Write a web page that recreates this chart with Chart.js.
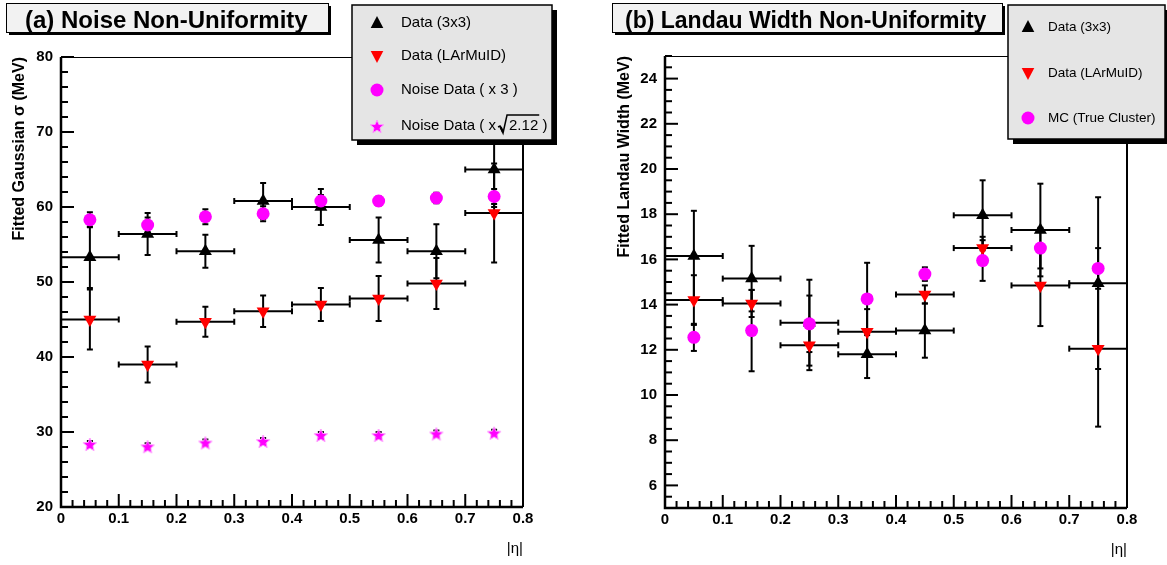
<!DOCTYPE html>
<html lang="en">
<head>
<meta charset="utf-8">
<title>Noise and Landau Width Non-Uniformity</title>
<script src="https://cdn.jsdelivr.net/npm/chart.js@4.4.1/dist/chart.umd.min.js"></script>
<style>
  body { margin: 0; background: #fff; }
  #wrap { position: relative; width: 1167px; height: 565px; overflow: hidden; }
  canvas { position: absolute; top: 0; }
  #left { left: 0; }
  #right { left: 600px; }
</style>
</head>
<body>
<div id="wrap">
  <canvas id="left" width="600" height="565"></canvas>
  <canvas id="right" width="567" height="565"></canvas>
</div>
<script>
// eta bins (bin centres, half width used as x error)
const etaCenters = [0.05, 0.15, 0.25, 0.35, 0.45, 0.55, 0.65, 0.75];
const etaHalfBin = 0.05;
const xTickValues = [0, 0.1, 0.2, 0.3, 0.4, 0.5, 0.6, 0.7, 0.8];
const xTickLabels = ['0', '0.1', '0.2', '0.3', '0.4', '0.5', '0.6', '0.7', '0.8'];

// (a) noise, fitted gaussian sigma in MeV
const noiseYTicks = [20, 30, 40, 50, 60, 70, 80];
const noise3x3 = [53.3, 56.4, 54.1, 60.8, 60.0, 55.6, 54.1, 65.0];
const noise3x3Err = [4.1, 2.8, 2.2, 2.4, 2.4, 3.0, 3.6, 5.0];
const noiseLAr = [45.0, 39.0, 44.7, 46.1, 47.0, 47.8, 49.8, 59.2];
const noiseLArErr = [4.0, 2.4, 2.0, 2.1, 2.2, 3.0, 3.4, 6.6];
const noiseTimes3 = [58.3, 57.6, 58.7, 59.1, 60.8, 60.8, 61.2, 61.4];
const noiseTimes3Err = [1.0, 1.0, 1.0, 1.0, 0.8, 0.6, 0.7, 1.0];
const noiseTimesSqrt = [28.4, 28.1, 28.6, 28.8, 29.6, 29.6, 29.8, 29.9];
const noiseTimesSqrtErr = [0.4, 0.4, 0.4, 0.4, 0.4, 0.4, 0.4, 0.4];

// (b) fitted landau width in MeV
const widthYTicks = [6, 8, 10, 12, 14, 16, 18, 20, 22, 24];
const width3x3 = [16.15, 15.15, 13.2, 11.8, 12.85, 17.95, 17.3, 14.95];
const width3x3Err = [2.0, 1.45, 1.9, 1.05, 1.2, 1.55, 2.05, 3.8];
const widthLAr = [14.2, 14.05, 12.2, 12.8, 14.45, 16.5, 14.85, 12.05];
const widthLArErr = [1.1, 0.6, 1.1, 1.0, 0.4, 0.5, 1.8, 3.45];
const widthMC = [12.55, 12.85, 13.15, 14.25, 15.35, 15.95, 16.5, 15.6];
const widthMCErr = [0.6, 1.8, 1.25, 1.6, 0.3, 0.9, 0.9, 0.9];

const FONT = '"Liberation Sans", Arial, Helvetica, sans-serif';
const MAGENTA = '#ff00ff';

function pts(values) {
    return etaCenters.map((x, i) => ({ x: x, y: values[i] }));
}

// filled star marker (chart.js 'star' is stroke only)
function starImage(size, color) {
    const c = document.createElement('canvas');
    c.width = c.height = size;
    const g = c.getContext('2d');
    const R = size / 2 - 1, r = R * 0.45;
    g.beginPath();
    for (let k = 0; k < 10; k++) {
        const rad = k % 2 ? r : R;
        const ang = -Math.PI / 2 + k * Math.PI / 5;
        g.lineTo(size / 2 + rad * Math.cos(ang), size / 2 + 1 + rad * Math.sin(ang));
    }
    g.closePath();
    g.fillStyle = color;
    g.fill();
    g.strokeStyle = '#ff99ff';
    g.lineWidth = 1;
    g.stroke();
    return c;
}
const starMarker = starImage(16, MAGENTA);

function drawMarker(ctx, kind, color, x, y) {
    ctx.save();
    ctx.fillStyle = color;
    ctx.beginPath();
    if (kind === 'up') {
        ctx.moveTo(x, y - 7); ctx.lineTo(x + 6.3, y + 5); ctx.lineTo(x - 6.3, y + 5);
    } else if (kind === 'down') {
        ctx.moveTo(x, y + 7); ctx.lineTo(x + 6.3, y - 5); ctx.lineTo(x - 6.3, y - 5);
    } else if (kind === 'circle') {
        ctx.arc(x, y, 6.5, 0, Math.PI * 2);
    }
    ctx.closePath();
    if (kind === 'star') {
        ctx.drawImage(starMarker, x - 8, y - 8);
    } else {
        ctx.fill();
    }
    ctx.restore();
}

const errorBars = {
    id: 'errorBars',
    beforeDatasetsDraw(chart) {
        const { ctx, scales: { x, y } } = chart;
        ctx.save();
        ctx.strokeStyle = '#000';
        ctx.lineWidth = 2;
        const seg = (x1, y1, x2, y2) => {
            ctx.beginPath(); ctx.moveTo(x1, y1); ctx.lineTo(x2, y2); ctx.stroke();
        };
        chart.data.datasets.forEach(ds => {
            ds.data.forEach((p, i) => {
                const px = x.getPixelForValue(p.x);
                const py = y.getPixelForValue(p.y);
                if (ds.xErr) {
                    const l = x.getPixelForValue(p.x - ds.xErr);
                    const r = x.getPixelForValue(p.x + ds.xErr);
                    seg(l, py, r, py);
                    seg(l, py - 3, l, py + 3);
                    seg(r, py - 3, r, py + 3);
                }
                if (ds.yErr) {
                    const t = y.getPixelForValue(p.y + ds.yErr[i]);
                    const b = y.getPixelForValue(p.y - ds.yErr[i]);
                    seg(px, t, px, b);
                    seg(px - 3, t, px + 3, t);
                    seg(px - 3, b, px + 3, b);
                }
            });
        });
        ctx.restore();
    }
};

// ROOT style frame, ticks, titles and legend box
const rootFrame = {
    id: 'rootFrame',
    afterDatasetsDraw(chart, args, o) {
        const { ctx, chartArea: a, scales: { x, y } } = chart;
        ctx.save();
        ctx.strokeStyle = '#000';
        ctx.fillStyle = '#000';

        ctx.lineWidth = 1;
        ctx.beginPath(); ctx.moveTo(a.left, a.top + 0.5); ctx.lineTo(a.right, a.top + 0.5); ctx.stroke();
        ctx.lineWidth = 2;
        ctx.beginPath(); ctx.moveTo(a.right, a.top); ctx.lineTo(a.right, a.bottom); ctx.stroke();
        ctx.lineWidth = 2.5;
        ctx.beginPath(); ctx.moveTo(a.left, a.top); ctx.lineTo(a.left, a.bottom); ctx.lineTo(a.right, a.bottom); ctx.stroke();

        // ticks
        ctx.lineWidth = 2;
        const nx = Math.round((x.max - x.min) / o.xMinor);
        for (let k = 0; k <= nx; k++) {
            const v = x.min + k * o.xMinor;
            const px = x.getPixelForValue(v);
            const len = k % 5 === 0 ? 13 : 7;
            ctx.beginPath(); ctx.moveTo(px, a.bottom); ctx.lineTo(px, a.bottom - len); ctx.stroke();
        }
        const ny = Math.round((y.max - y.min) / o.yMinor);
        for (let k = 0; k <= ny; k++) {
            const v = y.min + k * o.yMinor;
            const py = y.getPixelForValue(v);
            const major = o.yTicks.some(t => Math.abs(t - v) < 1e-6);
            ctx.beginPath(); ctx.moveTo(a.left, py); ctx.lineTo(a.left + (major ? 13 : 7), py); ctx.stroke();
        }

        // tick labels
        ctx.font = 'bold 15px ' + FONT;
        ctx.textAlign = 'center';
        ctx.textBaseline = 'middle';
        xTickValues.forEach((v, i) => ctx.fillText(xTickLabels[i], x.getPixelForValue(v), a.bottom + 12));
        ctx.textAlign = 'right';
        o.yTicks.forEach(v => ctx.fillText(String(v), a.left - 8, y.getPixelForValue(v)));

        // axis titles
        ctx.font = '15px ' + FONT;
        ctx.fillText('|η|', a.right, a.bottom + 42);
        ctx.save();
        ctx.font = 'bold 16px ' + FONT;
        ctx.translate(o.yTitleX, a.top);
        ctx.rotate(-Math.PI / 2);
        ctx.textAlign = 'right';
        ctx.fillText(o.yTitle, 0, 0);
        ctx.restore();

        // title box
        const t = o.title;
        ctx.fillStyle = '#000';
        ctx.fillRect(t.x + 3, t.y + 3, t.w, t.h);
        ctx.fillStyle = '#f2f2f2';
        ctx.fillRect(t.x, t.y, t.w, t.h);
        ctx.lineWidth = 1;
        ctx.strokeRect(t.x + 0.5, t.y + 0.5, t.w, t.h);
        ctx.fillStyle = '#000';
        ctx.font = 'bold ' + t.fontSize + 'px ' + FONT;
        ctx.textAlign = 'left';
        ctx.textBaseline = 'alphabetic';
        ctx.fillText(t.text, t.textX, t.y + 25);

        // legend box
        const L = o.legend;
        ctx.fillStyle = '#000';
        ctx.fillRect(L.x + 5, L.y + 5, L.w, L.h);
        ctx.fillStyle = '#e5e5e5';
        ctx.fillRect(L.x, L.y, L.w, L.h);
        ctx.lineWidth = 1.5;
        ctx.strokeRect(L.x, L.y, L.w, L.h);
        ctx.font = L.fontSize + 'px ' + FONT;
        ctx.textBaseline = 'middle';
        L.items.forEach((it, i) => {
            const ry = L.rows[i];
            drawMarker(ctx, it.marker, it.color, L.markerX, ry);
            ctx.fillStyle = '#000';
            if (it.sqrt) {
                // "Noise Data ( x sqrt(2.12) )"
                const head = it.label;
                ctx.fillText(head, L.textX, ry);
                const rx = L.textX + ctx.measureText(head).width + 3;
                const rad = it.sqrt;
                const rw = ctx.measureText(rad).width;
                ctx.lineWidth = 1.5;
                ctx.beginPath();
                ctx.moveTo(rx - 1, ry + 1);
                ctx.lineTo(rx + 1, ry);
                ctx.lineTo(rx + 4, ry + 7);
                ctx.lineTo(rx + 8, ry - 11);
                ctx.lineTo(rx + 10 + rw + 1, ry - 11);
                ctx.stroke();
                ctx.beginPath();
                ctx.lineWidth = 2.5;
                ctx.moveTo(rx + 1.5, ry + 1); ctx.lineTo(rx + 4, ry + 6);
                ctx.stroke();
                ctx.fillText(rad, rx + 10, ry);
                ctx.fillText(' )', rx + 10 + rw, ry);
            } else {
                ctx.fillText(it.label, L.textX, ry);
            }
        });
        ctx.restore();
    }
};

function makeChart(id, cfg) {
    return new Chart(document.getElementById(id), {
        type: 'scatter',
        data: { datasets: cfg.datasets },
        options: {
            responsive: false,
            animation: false,
            events: [],
            layout: { padding: cfg.padding },
            scales: {
                x: { type: 'linear', min: 0, max: 0.8, display: false },
                y: { type: 'linear', min: cfg.yMin, max: cfg.yMax, display: false }
            },
            elements: { point: { borderWidth: 0 } },
            plugins: {
                legend: { display: false },
                tooltip: { enabled: false },
                rootFrame: cfg.frame
            }
        },
        plugins: [errorBars, rootFrame]
    });
}

makeChart('left', {
    padding: { left: 61, top: 57, right: 77, bottom: 58 },
    yMin: 20, yMax: 80,
    datasets: [
        { label: 'Data (3x3)', data: pts(noise3x3), yErr: noise3x3Err, xErr: etaHalfBin,
          pointStyle: 'triangle', pointRadius: 7.5, backgroundColor: '#000', order: 3 },
        { label: 'Data (LArMuID)', data: pts(noiseLAr), yErr: noiseLArErr, xErr: etaHalfBin,
          pointStyle: 'triangle', rotation: 180, pointRadius: 7.5, backgroundColor: '#ff0000', order: 2 },
        { label: 'Noise Data ( x 3 )', data: pts(noiseTimes3), yErr: noiseTimes3Err,
          pointStyle: 'circle', pointRadius: 6.5, backgroundColor: MAGENTA, order: 1 },
        { label: 'Noise Data ( x sqrt 2.12 )', data: pts(noiseTimesSqrt), yErr: noiseTimesSqrtErr,
          pointStyle: starMarker, backgroundColor: MAGENTA, order: 0 }
    ],
    frame: {
        xMinor: 0.02, yMinor: 2, yTicks: noiseYTicks,
        yTitle: 'Fitted Gaussian σ (MeV)', yTitleX: 20,
        title: { x: 6, y: 3, w: 322, h: 29, textX: 25, fontSize: 24, text: '(a) Noise Non-Uniformity' },
        legend: {
            x: 352, y: 5, w: 200, h: 135, markerX: 377, textX: 401, fontSize: 15,
            rows: [23, 56, 90, 126],
            items: [
                { marker: 'up', color: '#000', label: 'Data (3x3)' },
                { marker: 'down', color: '#ff0000', label: 'Data (LArMuID)' },
                { marker: 'circle', color: MAGENTA, label: 'Noise Data ( x 3 )' },
                { marker: 'star', color: MAGENTA, label: 'Noise Data ( x', sqrt: '2.12' }
            ]
        }
    }
});

makeChart('right', {
    padding: { left: 65, top: 56, right: 40, bottom: 57 },
    yMin: 5, yMax: 25,
    datasets: [
        { label: 'Data (3x3)', data: pts(width3x3), yErr: width3x3Err, xErr: etaHalfBin,
          pointStyle: 'triangle', pointRadius: 7.5, backgroundColor: '#000', order: 2 },
        { label: 'Data (LArMuID)', data: pts(widthLAr), yErr: widthLArErr, xErr: etaHalfBin,
          pointStyle: 'triangle', rotation: 180, pointRadius: 7.5, backgroundColor: '#ff0000', order: 1 },
        { label: 'MC (True Cluster)', data: pts(widthMC), yErr: widthMCErr,
          pointStyle: 'circle', pointRadius: 6.5, backgroundColor: MAGENTA, order: 0 }
    ],
    frame: {
        xMinor: 0.02, yMinor: 0.5, yTicks: widthYTicks,
        yTitle: 'Fitted Landau Width (MeV)', yTitleX: 25,
        title: { x: 12, y: 3, w: 390, h: 29, textX: 25, fontSize: 23, text: '(b) Landau Width Non-Uniformity' },
        legend: {
            x: 408, y: 5, w: 157, h: 134, markerX: 428, textX: 448, fontSize: 13.5,
            rows: [27, 73, 118],
            items: [
                { marker: 'up', color: '#000', label: 'Data (3x3)' },
                { marker: 'down', color: '#ff0000', label: 'Data (LArMuID)' },
                { marker: 'circle', color: MAGENTA, label: 'MC (True Cluster)' }
            ]
        }
    }
});
</script>
</body>
</html>
